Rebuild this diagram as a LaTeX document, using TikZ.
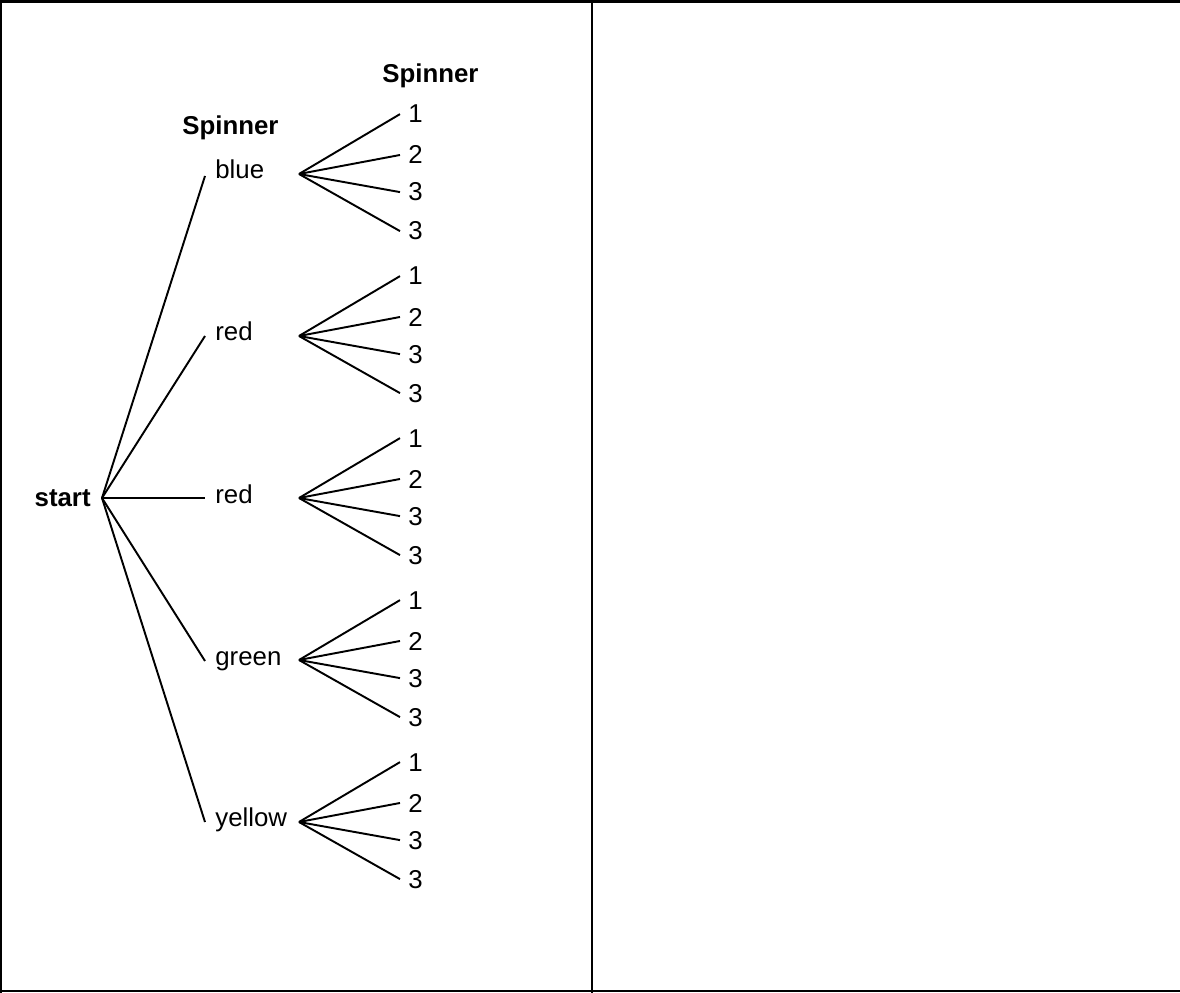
\documentclass[tikz,border=0pt]{standalone}
\usepackage{fontspec}
\setmainfont{Liberation Sans}

\tikzset{
    frame/.style={line width=1.2pt},
    branch/.style={line width=1.1pt},
    txt/.style={font=\fontsize{14.7}{17}\selectfont},
    head/.style={txt, font=\fontsize{14.7}{17}\selectfont\bfseries, anchor=base west, inner sep=0pt},
    pick/.style={txt, anchor=base west, inner sep=0pt},
    leaf/.style={txt, anchor=base west, inner xsep=4.5pt, inner ysep=0pt}
}

\begin{document}
\begin{tikzpicture}[x=0.02cm, y=-0.02cm]
            \useasboundingbox (0, 0) rectangle (1180, 993);

            % table
            \draw[frame] (0, 1.5) -- (1180, 1.5);
            \draw[frame] (0, 991) -- (1180, 991);
            \draw[frame] (1, 0) -- (1, 993);
            \draw[frame] (592, 0) -- (592, 993);

            \node[head] (spinA) at (182, 135) {Spinner};
            \node[head] (spinB) at (382, 83) {Spinner};

            \node[head, anchor=base east] (start) at (91, 506) {start};
            \coordinate (S) at (102, 498);

            % blue
            \node[pick] (blue) at (215, 179) {blue};
            \coordinate (blueIn) at (205, 176);
            \coordinate (blueOut) at (299, 174);
            \draw[branch] (S) -- (blueIn);
            \node[leaf] (blue1) at (400, 123) {1};
            \node[leaf] (blue2) at (400, 164) {2};
            \node[leaf] (blue3) at (400, 201) {3};
            \node[leaf] (blue4) at (400, 240) {3};
            \draw[branch] (blueOut) -- (blue1.west);
            \draw[branch] (blueOut) -- (blue2.west);
            \draw[branch] (blueOut) -- (blue3.west);
            \draw[branch] (blueOut) -- (blue4.west);

            % red
            \node[pick] (red) at (215, 340) {red};
            \coordinate (redIn) at (205, 336);
            \coordinate (redOut) at (299, 336);
            \draw[branch] (S) -- (redIn);
            \node[leaf] (red1) at (400, 285) {1};
            \node[leaf] (red2) at (400, 326) {2};
            \node[leaf] (red3) at (400, 363) {3};
            \node[leaf] (red4) at (400, 402) {3};
            \draw[branch] (redOut) -- (red1.west);
            \draw[branch] (redOut) -- (red2.west);
            \draw[branch] (redOut) -- (red3.west);
            \draw[branch] (redOut) -- (red4.west);

            % red again
            \node[pick] (redb) at (215, 503) {red};
            \coordinate (redbIn) at (205, 498);
            \coordinate (redbOut) at (299, 498);
            \draw[branch] (S) -- (redbIn);
            \node[leaf] (redb1) at (400, 447) {1};
            \node[leaf] (redb2) at (400, 488) {2};
            \node[leaf] (redb3) at (400, 525) {3};
            \node[leaf] (redb4) at (400, 564) {3};
            \draw[branch] (redbOut) -- (redb1.west);
            \draw[branch] (redbOut) -- (redb2.west);
            \draw[branch] (redbOut) -- (redb3.west);
            \draw[branch] (redbOut) -- (redb4.west);

            % green
            \node[pick] (green) at (215, 665) {green};
            \coordinate (greenIn) at (205, 661);
            \coordinate (greenOut) at (299, 660);
            \draw[branch] (S) -- (greenIn);
            \node[leaf] (green1) at (400, 609) {1};
            \node[leaf] (green2) at (400, 650) {2};
            \node[leaf] (green3) at (400, 687) {3};
            \node[leaf] (green4) at (400, 726) {3};
            \draw[branch] (greenOut) -- (green1.west);
            \draw[branch] (greenOut) -- (green2.west);
            \draw[branch] (greenOut) -- (green3.west);
            \draw[branch] (greenOut) -- (green4.west);

            % yellow
            \node[pick] (yellow) at (215, 826) {yellow};
            \coordinate (yellowIn) at (205, 822);
            \coordinate (yellowOut) at (299, 822);
            \draw[branch] (S) -- (yellowIn);
            \node[leaf] (yellow1) at (400, 771) {1};
            \node[leaf] (yellow2) at (400, 812) {2};
            \node[leaf] (yellow3) at (400, 849) {3};
            \node[leaf] (yellow4) at (400, 888) {3};
            \draw[branch] (yellowOut) -- (yellow1.west);
            \draw[branch] (yellowOut) -- (yellow2.west);
            \draw[branch] (yellowOut) -- (yellow3.west);
            \draw[branch] (yellowOut) -- (yellow4.west);
\end{tikzpicture}
\end{document}
